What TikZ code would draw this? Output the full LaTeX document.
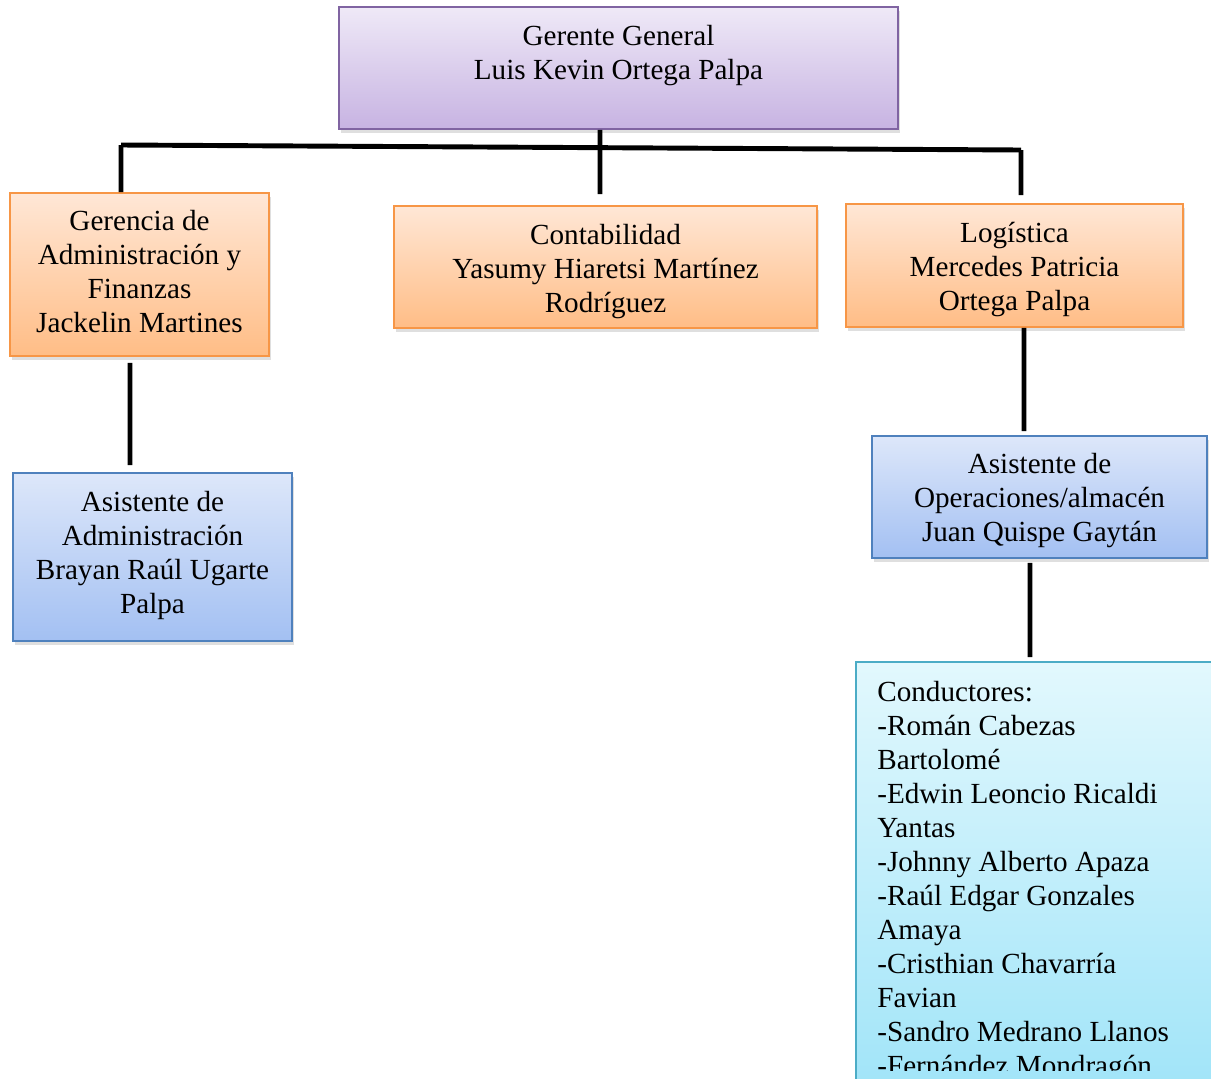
\documentclass[tikz,border=0pt]{standalone}
\usepackage{fontspec}
\setmainfont{Liberation Serif}
\usetikzlibrary{positioning,shadows}
\definecolor{ggline}{HTML}{8064A2}
\definecolor{ggtop}{HTML}{EFE9F7}
\definecolor{ggbot}{HTML}{C7B3E2}
\definecolor{orgline}{HTML}{F79646}
\definecolor{orgtop}{HTML}{FFE7D6}
\definecolor{orgbot}{HTML}{FFBD86}
\definecolor{bluline}{HTML}{4F81BD}
\definecolor{blutop}{HTML}{DDE7FA}
\definecolor{blubot}{HTML}{A3C0F2}
\definecolor{cyanline}{HTML}{4BACC6}
\definecolor{cyantop}{HTML}{E2F8FD}
\definecolor{cyanbot}{HTML}{9CE3F8}

\tikzset{
  orgbox/.style={draw=orgline, line width=1pt, top color=orgtop, bottom color=orgbot,
    drop shadow={shadow xshift=0.04cm, shadow yshift=-0.08cm, opacity=0.25}},
  ggbox/.style={orgbox, draw=ggline, top color=ggtop, bottom color=ggbot},
  blubox/.style={orgbox, draw=bluline, top color=blutop, bottom color=blubot},
  cyanbox/.style={orgbox, draw=cyanline, top color=cyantop, bottom color=cyanbot},
  lbl/.style={align=center, inner sep=0pt, font=\fontsize{16.6}{19.35}\selectfont},
  conn/.style={line width=2.8pt},
}

\begin{document}
\begin{tikzpicture}[x=0.02cm, y=-0.02cm]
  \useasboundingbox (0,0) rectangle (1211,1079);
  \clip (0,0) rectangle (1211,1079);

  % top
  \node[ggbox, minimum width=11.18cm, minimum height=2.44cm] (gg) at (618.5,68) {};
  \node[lbl] (ggtxt) at (618.5,56) {Gerente General\\Luis Kevin Ortega Palpa};

  % second level
  \node[orgbox, minimum width=5.18cm, minimum height=3.26cm] (gaf) at (139.5,274.5) {};
  \node[lbl] (gaftxt) at (139.5,271.5) {Gerencia de\\Administración y\\Finanzas\\Jackelin Martines};
  \node[orgbox, minimum width=8.46cm, minimum height=2.44cm] (cont) at (605.5,267) {};
  \node[lbl] (conttxt) at (605.5,272) {Contabilidad\\Yasumy Hiaretsi Martínez\\Rodríguez};
  \node[orgbox, minimum width=6.74cm, minimum height=2.46cm] (log) at (1014.5,265.5) {};
  \node[lbl] (logtxt) at (1014.5,269.5) {Logística\\Mercedes Patricia\\Ortega Palpa};

  % assistants
  \node[blubox, minimum width=5.58cm, minimum height=3.36cm] (aa) at (152.5,557) {};
  \node[lbl] (aatxt) at (152.5,555) {Asistente de\\Administración\\Brayan Raúl Ugarte\\Palpa};
  \node[blubox, minimum width=6.7cm, minimum height=2.44cm] (aop) at (1039.5,497) {};
  \node[lbl] (aoptxt) at (1039.5,501) {Asistente de\\Operaciones/almacén\\Juan Quispe Gaytán};

  % drivers
  \node[cyanbox, minimum width=7.48cm, minimum height=9.16cm] (cond) at (1043,891) {};
  \begin{scope}
    \clip (856,662) rectangle (1211,1070);
    \node[lbl, align=left, anchor=north west] (condtxt) at (877,681)
      {Conductores:\\-Román Cabezas\\Bartolomé\\-Edwin Leoncio Ricaldi\\Yantas\\-Johnny Alberto Apaza\\-Raúl Edgar Gonzales\\Amaya\\-Cristhian Chavarría\\Favian\\-Sandro Medrano Llanos\\-Fernández Mondragón};
  \end{scope}

  % connectors
  \coordinate (busL) at (121,145);
  \coordinate (busR) at (1021,150);
  \draw[conn] (busL) -- (busR);
  \draw[conn] (busL) -- ([xshift=-0.37cm]gaf.north);
  \draw[conn, shorten >=0.16cm] (busR) -- ([xshift=0.13cm]log.north);
  \draw[conn, shorten >=0.22cm] ([xshift=-0.37cm]gg.south) -- ([xshift=-0.11cm]cont.north);
  \draw[conn, shorten <=0.12cm, shorten >=0.14cm] ([xshift=-0.19cm]gaf.south) -- ([xshift=-0.45cm]aa.north);
  \draw[conn, shorten >=0.08cm] ([xshift=0.19cm]log.south) -- ([xshift=-0.31cm]aop.north);
  \draw[conn, shorten <=0.08cm, shorten >=0.08cm] ([xshift=-0.19cm]aop.south) -- ([xshift=-0.26cm]cond.north);
\end{tikzpicture}
\end{document}
